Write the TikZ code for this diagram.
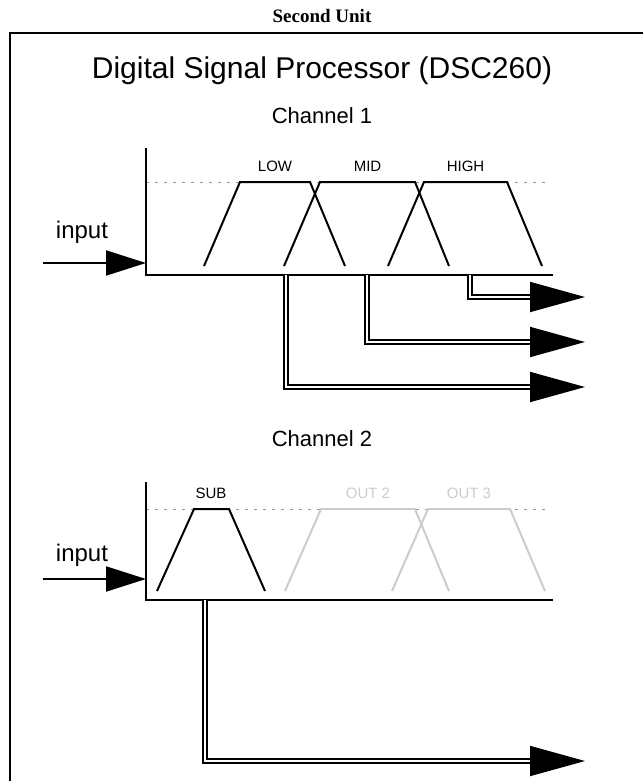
\documentclass[tikz,border=0pt]{standalone}
\usepackage{fontspec}
\setmainfont{Liberation Sans}
\newfontfamily\unitfont{Liberation Serif}
\usetikzlibrary{arrows.meta}
\begin{document}
\begin{tikzpicture}[x=1pt,y=-1pt, line join=miter,
  font=\fontsize{15}{17}\selectfont,
  axis/.style={line width=2pt},
  band/.style={line width=2pt},
  muted/.style={line width=2pt,black!20},
  level/.style={black!40,line width=0.8pt,dash pattern=on 3pt off 6pt},
  bus/.style={double,line width=1.8pt,double distance=1.5pt,-{Triangle[length=55pt,width=30pt]}},
  feed/.style={line width=2pt,-{Triangle[length=40pt,width=25pt]}}]
\def\xo{146} \def\xe{553} \def\xd{545}
\useasboundingbox (0,0) rectangle (643,781);
% frame
\node[font=\unitfont\bfseries\fontsize{19}{21}\selectfont] (unit) at (322,16) {Second Unit};
\draw[line width=2pt] (10,781) -- (10,33) -- (643,33);
\node[font=\fontsize{30}{34}\selectfont] (dsp) at (322,71) {Digital Signal Processor (DSC260)};
% Channel 1
\node[font=\fontsize{22}{26}\selectfont] (ch1) at (322,116) {Channel 1};
\draw[level] (\xo,182) -- (\xd,182);
\foreach \p/\q/\r/\s/\t in {204/240/310/345/LOW, 284/320/415/449/MID, 388/424/507/542/HIGH}{
  \draw[band] (\p,266) -- (\q,182) -- (\r,182) -- (\s,266);
  \node (\t) at ({(\q+\r)/2},166) {\t};
}
\draw[axis] (\xo,148) -- (\xo,275) -- (\xe,275);
\node[font=\fontsize{24}{28}\selectfont] (inA) at (82,232) {input};
\coordinate (srcA) at (43,263);
\coordinate (inpA) at (\xo,263);
\draw[feed] (srcA) -- (inpA);
\coordinate (tapLow) at (286,275);  \coordinate (outLow) at (585,387);
\coordinate (tapMid) at (367,275);  \coordinate (outMid) at (585,342);
\coordinate (tapHigh) at (470,275); \coordinate (outHigh) at (585,297);
\draw[bus] (tapLow) |- (outLow);
\draw[bus] (tapMid) |- (outMid);
\draw[bus] (tapHigh) |- (outHigh);
% Channel 2
\node[font=\fontsize{22}{26}\selectfont] (ch2) at (322,439) {Channel 2};
\draw[level] (\xo,509) -- (\xd,509);
\draw[band] (157,591) -- (194,509) -- (229,509) -- (265,591);
\node (SUB) at (211,493) {SUB};
\foreach \p/\q/\r/\s/\t in {285/321/415/449/OUT 2, 392/428/510/545/OUT 3}{
  \draw[muted] (\p,591) -- (\q,509) -- (\r,509) -- (\s,591);
  \node[black!20] at ({(\q+\r)/2},493) {\t};
}
\draw[axis] (\xo,482) -- (\xo,600) -- (\xe,600);
\node[font=\fontsize{24}{28}\selectfont] (inB) at (82,555) {input};
\coordinate (srcB) at (43,579);
\coordinate (inpB) at (\xo,579);
\draw[feed] (srcB) -- (inpB);
\coordinate (tapSub) at (205,600); \coordinate (outSub) at (585,761);
\draw[bus] (tapSub) |- (outSub);
\end{tikzpicture}
\end{document}
